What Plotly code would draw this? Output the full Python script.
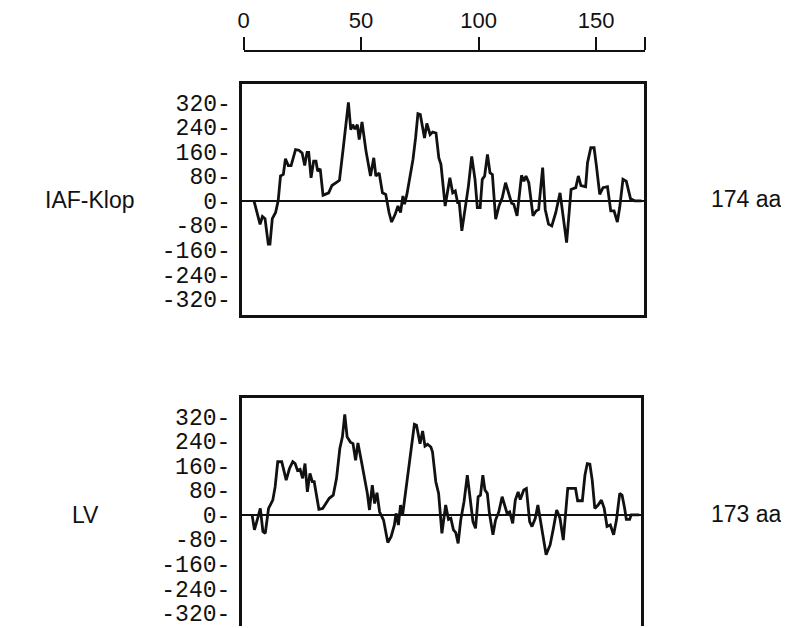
import plotly.graph_objects as go

# ---------------- data ----------------
iaf_pos = [5, 7.6, 8.6, 9.7, 11.1, 11.8, 12.8, 14.2, 15.3, 16.3, 17.5, 18.4, 19.6, 20.8,
           22.7, 24.1, 25.5, 26.6, 27.6, 28.3, 29.3, 30.4, 31.4, 32.1, 33.2, 34.4, 35.3,
           36.8, 38.2, 39.6, 41.4, 43.1, 44.2, 45.2, 46.2, 47.0, 48.0, 49.0, 49.8, 51.0,
           52.7, 54.6, 56.0, 56.9, 58.3, 59.7, 61.1, 62.5, 63.6, 65.1, 66.3, 67.4, 68.4,
           69.1, 70.1, 72.7, 73.8, 74.8, 75.8, 77.6, 78.6, 80.0, 81.1, 82.5, 83.7, 84.6,
           86.4, 88.4, 89.6, 90.7, 91.7, 92.4, 93.5, 95.2, 96.3, 97.7, 99.1, 100.1, 101.3,
           102.2, 103.2, 104.4, 105.5, 106.5, 107.9, 109.3, 110.7, 112.1, 113.5, 114.7,
           115.6, 117.0, 118.9, 119.9, 120.8, 122.0, 123.8, 125.1, 126.2, 127.9, 129.0,
           130.4, 131.8, 133.5, 135.3, 136.7, 138.1, 140.0, 142.0, 143.1, 144.2, 146.2,
           147.0, 148.4, 149.8, 150.8, 152.2, 153.6, 155.5, 156.9, 158.3, 159.7, 160.7,
           162.1, 163.5, 165.3, 167.1, 170.0]
iaf_val = [0, -77, -51, -58, -141, -141, -58, -38, 0, 81, 86, 137, 115, 115,
           167, 165, 156, 115, 158, 158, 75, 129, 129, 97, 104, 18, 21,
           26, 50, 57, 67, 178, 243, 321, 232, 248, 234, 248, 200, 257,
           162, 81, 140, 81, 91, 26, 21, -38, -69, -44, -17, -38, 16,
           -11, 21, 135, 205, 284, 281, 205, 252, 216, 224, 221, 140, 119,
           -17, 75, 26, 32, -6, -6, -98, -17, 48, 145, 70, -22, -22,
           70, 81, 151, 91, 86, -60, -17, 10, 59, 21, -8,
           -11, -49, 83, 64, 81, 59, -49, -33, -28, 108, -28,
           -76, -82, -38, 26, -60, -136, 37, 43, 81, 50, 46,
           124, 173, 173, 113, 21, 43, 46, -33, -33, -69, -22,
           70, 64, 7, 0, 0]

lv_pos = [4.4, 5.4, 6.8, 7.9, 9.0, 10.0, 11.4, 13.2, 14.2, 15.3, 17.0, 18.0, 18.9, 20.3,
          21.7, 22.7, 23.7, 24.8, 25.9, 26.9, 27.9, 29.0, 30.0, 30.8, 31.8, 32.8, 34.4,
          35.8, 37.2, 38.9, 40.3, 41.7, 42.8, 43.8, 44.8, 46.2, 47.3, 48.4, 49.4, 50.8,
          52.2, 53.4, 54.3, 55.5, 56.5, 57.5, 58.6, 60.3, 62.1, 63.5, 64.9, 65.6, 66.6,
          67.5, 68.4, 69.8, 71.3, 72.4, 73.4, 74.3, 75.8, 76.9, 77.9, 79.0, 80.4, 81.1,
          82.5, 83.7, 85.1, 86.7, 87.9, 88.9, 90.0, 91.0, 92.0, 93.1, 94.5, 95.9, 96.9,
          98.3, 99.4, 100.5, 101.5, 102.5, 103.4, 104.4, 105.3, 106.8, 107.9, 109.3,
          110.7, 111.8, 112.8, 113.9, 115.2, 116.3, 117.5, 118.4, 119.9, 121.0, 122.4,
          123.4, 124.8, 125.9, 126.9, 128.0, 129.4, 131.1, 132.5, 133.9, 135.3, 136.7,
          138.6, 140.5, 141.9, 142.8, 144.8, 145.9, 146.9, 148.0, 149.0, 150.1, 151.5,
          152.9, 154.1, 155.3, 156.7, 158.1, 159.3, 160.7, 161.7, 162.8, 163.5, 164.9,
          165.6, 169.0]
lv_val = [0, -49, -11, 21, -54, -60, 21, 48, 91, 173, 173, 140, 113, 151,
          173, 167, 145, 148, 119, 167, 75, 135, 108, 108, 59, 18, 21,
          37, 54, 64, 119, 216, 254, 327, 254, 237, 232, 178, 234, 178,
          124, 70, 16, 97, 37, 72, 10, -17, -90, -71, -33, 5, -33,
          32, 0, 81, 167, 221, 295, 292, 232, 273, 224, 230, 221, 205,
          108, 70, -60, 32, -15, -11, -49, -58, -93, -17, 43, 129, 70,
          -22, -44, 59, 64, 129, 81, 70, 5, -65, -17, 10,
          59, 26, 5, 10, -28, 48, 75, 50, 81, 86, -22,
          -38, -11, 32, -22, -65, -130, -98, -44, 16, -11, -82,
          86, 86, 86, 46, 46, 129, 167, 165, 113, 21, 32,
          48, 21, -38, -33, -65, -17, 70, 64, 21, -15, -15,
          0, 0]

scale_ticks = [0, 50, 100, 150, 171]
scale_labels = ["0", "50", "100", "150", ""]
y_ticks = [320, 240, 160, 80, 0, -80, -160, -240, -320]
y_labels = ["320-", "240-", "160-", "80-", "0-", "-80-", "-160-", "-240-", "-320-"]
names = ["IAF-Klop", "LV"]
lengths = ["174 aa", "173 aa"]

# ---------------- figure ----------------
# the page body has an 8px margin, so the figure is drawn 8px in from the window edge
OFF = 8
W, H = 789 - OFF, 628 - OFF
def px_x(p):
    return (p - OFF) / W
def px_y(p):
    return 1 - (p - OFF) / H

fig = go.Figure()
line_style = dict(color="#111111", width=2.8)
fig.add_trace(go.Scatter(x=iaf_pos, y=iaf_val, mode="lines", line=line_style,
                         xaxis="x", yaxis="y", showlegend=False, hoverinfo="skip"))
fig.add_trace(go.Scatter(x=lv_pos, y=lv_val, mode="lines", line=line_style,
                         xaxis="x2", yaxis="y2", showlegend=False, hoverinfo="skip"))
# invisible trace for the scale axis
fig.add_trace(go.Scatter(x=[0, 171], y=[0, 0], mode="markers", marker=dict(opacity=0),
                         xaxis="x3", yaxis="y3", showlegend=False, hoverinfo="skip"))

mono = dict(family="Liberation Mono, Courier New, monospace", size=23, color="#111111")
sans = "Liberation Sans, Arial, Helvetica, sans-serif"

yax_common = dict(showline=True, linecolor="#111111", linewidth=2.6, mirror=True,
                  zeroline=True, zerolinecolor="#111111", zerolinewidth=2.4,
                  showgrid=False, tickmode="array", tickvals=y_ticks, ticktext=y_labels,
                  ticks="", tickfont=mono, ticklabelstandoff=4, fixedrange=True,
                  ticklabeloverflow="allow")

fig.update_layout(
    width=W, height=H,
    margin=dict(l=0, r=0, t=0, b=0),
    paper_bgcolor="white", plot_bgcolor="white",
    xaxis=dict(domain=[px_x(238), px_x(643)], range=[0, 171.1], anchor="y",
               showline=True, linecolor="#111111", linewidth=2.6, mirror=True,
               showgrid=False, zeroline=False, showticklabels=False, ticks=""),
    yaxis=dict(domain=[px_y(316), px_y(84)], range=[-372, 381.5], anchor="x", **yax_common),
    xaxis2=dict(domain=[px_x(237.5), px_x(640)], range=[0, 169.8], anchor="y2", side="top",
                showline=True, linecolor="#111111", linewidth=2.6, mirror=False,
                showgrid=False, zeroline=False, showticklabels=False, ticks=""),
    yaxis2=dict(domain=[0, px_y(399)], range=[-362, 381.5], anchor="x2", **yax_common),
    xaxis3=dict(domain=[px_x(239.3), px_x(644.3)], range=[0, 171], anchor="y3", side="top",
                showline=True, linecolor="#111111", linewidth=2.2,
                ticks="outside", ticklen=13, tickwidth=2.2, tickcolor="#111111",
                tickmode="array", tickvals=scale_ticks, ticktext=scale_labels,
                tickfont=dict(family=sans, size=22, color="#111111"),
                showgrid=False, zeroline=False),
    yaxis3=dict(domain=[px_y(60), px_y(52)], range=[0, 1], anchor="x3", visible=False),
)

# side labels
lab_font = dict(family=sans, size=23, color="#111111")
fig.add_annotation(x=px_x(84), y=px_y(201), xref="paper", yref="paper", text=names[0],
                   xanchor="center", yanchor="middle", showarrow=False, font=lab_font)
fig.add_annotation(x=px_x(80), y=px_y(517), xref="paper", yref="paper", text=names[1],
                   xanchor="center", yanchor="middle", showarrow=False, font=lab_font)
fig.add_annotation(x=px_x(746), y=px_y(200), xref="paper", yref="paper", text=lengths[0],
                   xanchor="center", yanchor="middle", showarrow=False, font=lab_font)
fig.add_annotation(x=px_x(746), y=px_y(516), xref="paper", yref="paper", text=lengths[1],
                   xanchor="center", yanchor="middle", showarrow=False, font=lab_font)

fig.write_html("out.html")
